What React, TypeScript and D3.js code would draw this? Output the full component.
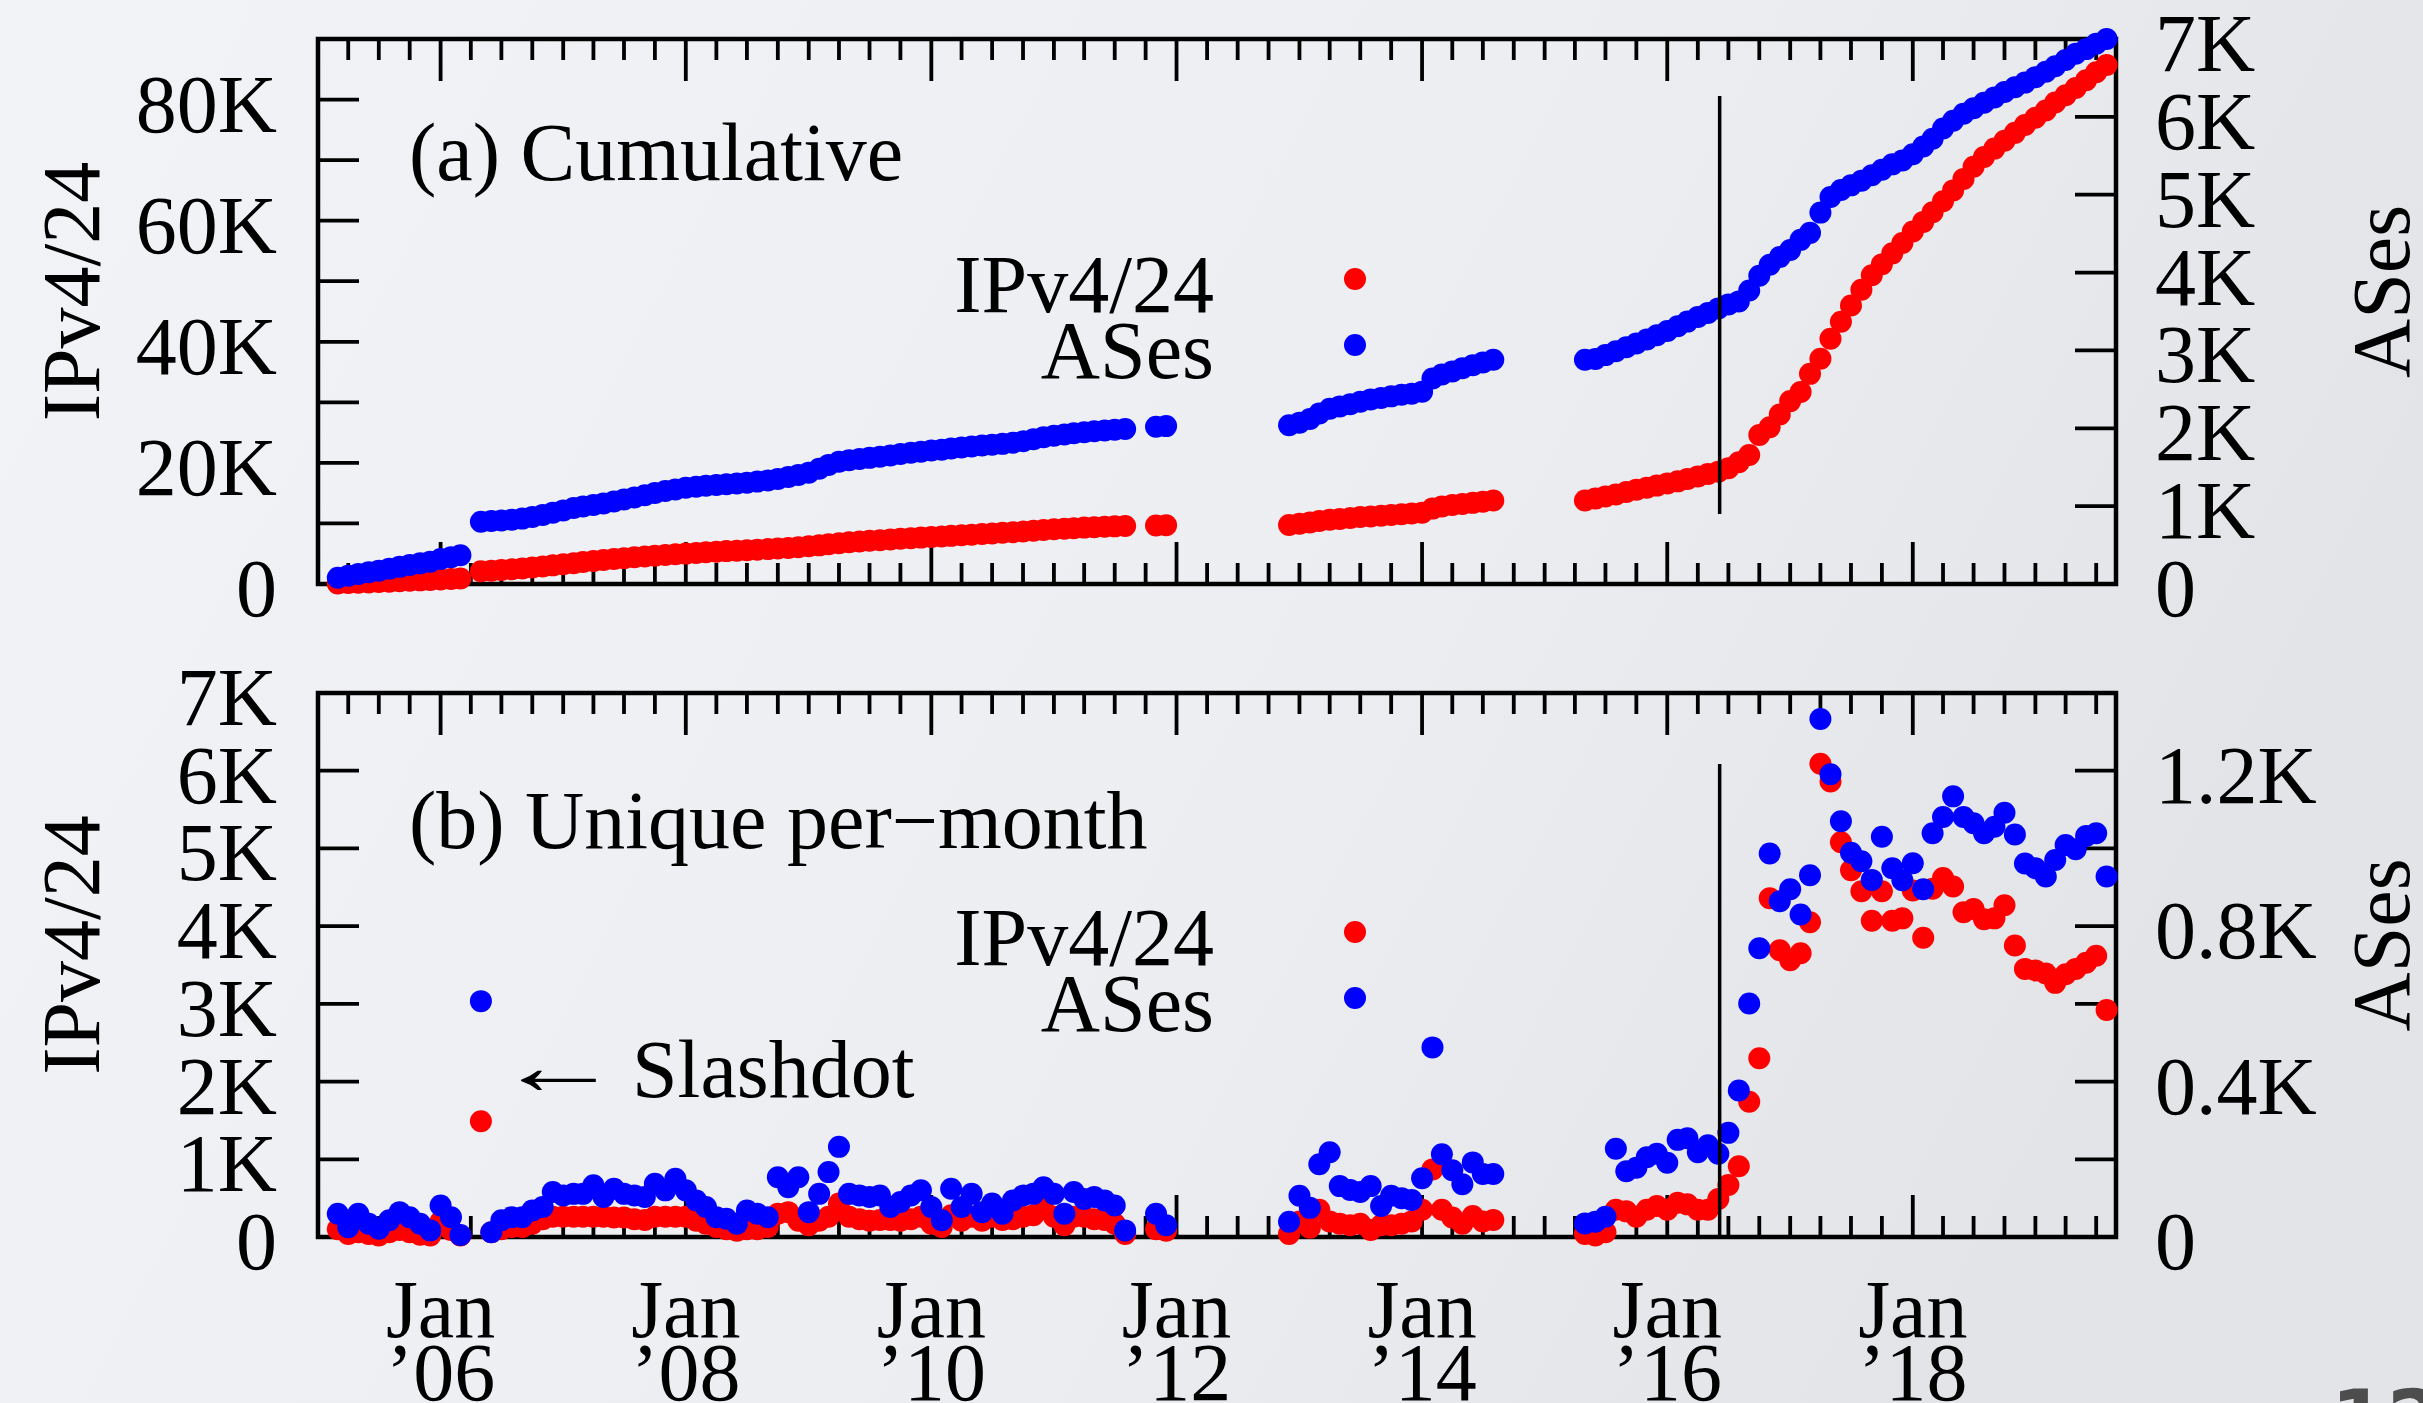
import React, { useEffect } from "react";
import * as d3 from "d3";

// monthly samples, one run of consecutive months per segment (gaps between runs have no data)
const segmentStart = ["2005-03", "2006-05", "2011-11", "2012-12", "2015-05"];

const cumulativeIPv4 = [
  [100, 150, 200, 260, 320, 390, 460, 530, 600, 670, 750, 830, 900],
  [2100, 2200, 2300, 2420, 2560, 2720, 2900, 3080, 3260, 3440, 3620, 3790, 3960, 4120, 4270, 4410,
    4540, 4660, 4780, 4900, 5020, 5130, 5240, 5340, 5430, 5510, 5590, 5670, 5760, 5860, 5960, 6080,
    6220, 6380, 6550, 6750, 6900, 7020, 7130, 7240, 7350, 7460, 7560, 7660, 7760, 7850, 7950, 8050,
    8150, 8250, 8350, 8450, 8560, 8680, 8800, 8920, 9030, 9130, 9220, 9310, 9390, 9460, 9520, 9570],
  [9650, 9700],
  [9750, 9950, 10150, 10400, 10600, 10750, 10900, 11050, 11150, 11280, 11400, 11520, 11640, 11780,
    12450, 12800, 13050, 13200, 13400, 13600, 13800],
  [13800, 14100, 14450, 14800, 15200, 15550, 15900, 16250, 16600, 16950, 17350, 17750, 18150, 18550,
    19100, 20100, 21300, 24600, 25900, 28000, 30200, 31700, 34700, 37200, 40500, 43300, 46000, 48600,
    51000, 52800, 54600, 56300, 58200, 59800, 61400, 63200, 65000, 66900, 68900, 70500, 71900, 73200,
    74500, 75800, 77000, 78200, 79500, 80700, 81900, 83200, 84500, 85700],
];

const cumulativeASes = [
  [80, 105, 130, 150, 170, 195, 220, 245, 265, 285, 320, 345, 370],
  [800, 808, 816, 826, 840, 860, 885, 915, 945, 975, 995, 1015, 1035, 1060, 1085, 1110, 1140, 1170,
    1195, 1215, 1235, 1250, 1262, 1272, 1282, 1292, 1302, 1315, 1330, 1350, 1375, 1400, 1430, 1480,
    1530, 1570, 1590, 1605, 1620, 1635, 1650, 1670, 1685, 1700, 1715, 1725, 1740, 1752, 1765, 1778,
    1790, 1800, 1815, 1835, 1860, 1885, 1905, 1920, 1935, 1950, 1962, 1972, 1982, 1990],
  [2020, 2028],
  [2040, 2070, 2120, 2190, 2250, 2280, 2310, 2340, 2370, 2390, 2410, 2430, 2445, 2470, 2640, 2690,
    2730, 2770, 2810, 2845, 2880],
  [2880, 2890, 2940, 2990, 3040, 3090, 3140, 3195, 3250, 3310, 3370, 3430, 3480, 3540, 3590, 3630,
    3770, 3960, 4100, 4200, 4290, 4420, 4510, 4770, 4970, 5060, 5120, 5180, 5250, 5320, 5390, 5440,
    5520, 5620, 5720, 5850, 5950, 6040, 6110, 6180, 6250, 6320, 6380, 6440, 6510, 6580, 6650, 6730,
    6810, 6870, 6940, 7000],
];

const monthlyIPv4 = [
  [100, 40, 60, 40, 20, 60, 90, 60, 30, 20, 200, 90, 20],
  [1490, 60, 100, 130, 130, 170, 230, 260, 260, 260, 260, 260, 260, 250, 250, 230, 220, 260, 260, 260,
    260, 210, 170, 130, 100, 80, 100, 100, 130, 300, 320, 210, 150, 210, 260, 430, 260, 230, 210, 220,
    220, 210, 230, 260, 170, 130, 280, 210, 260, 210, 260, 220, 230, 260, 280, 360, 260, 150, 260, 260,
    230, 220, 170, 40],
  [100, 80],
  [40, 200, 120, 350, 200, 170, 150, 170, 90, 150, 150, 170, 200, 350, 870, 350, 250, 170, 270, 200, 220],
  [40, 20, 60, 350, 330, 260, 350, 400, 350, 440, 420, 350, 350, 490, 670, 910, 1740, 2300, 4360, 3690,
    3560, 3650, 4050, 6090, 5860, 5080, 4720, 4450, 4070, 4450, 4070, 4100, 4460, 3850, 4480, 4620,
    4510, 4180, 4220, 4090, 4100, 4270, 3750, 3450, 3430, 3390, 3270, 3380, 3450, 3530, 3620, 2920],
];

const monthlyASes = [
  [60, 25, 60, 34, 21, 43, 64, 51, 34, 17, 81, 51, 5],
  [607, 12, 43, 51, 51, 68, 77, 116, 107, 111, 111, 133, 103, 124, 111, 107, 103, 137, 120, 150, 120,
    94, 77, 51, 47, 34, 68, 60, 51, 154, 128, 154, 64, 111, 167, 232, 111, 107, 103, 107, 77, 90, 107,
    120, 77, 43, 124, 77, 111, 64, 86, 60, 94, 107, 111, 128, 111, 60, 116, 98, 103, 94, 81, 17],
  [60, 30],
  [39, 106, 75, 187, 218, 131, 121, 116, 131, 80, 106, 100, 95, 151, 488, 213, 172, 136, 192, 162, 162],
  [35, 39, 52, 227, 169, 178, 205, 214, 191, 250, 254, 218, 236, 214, 268, 377, 601, 743, 987, 864,
    895, 830, 931, 1333, 1191, 1070, 989, 967, 919, 1030, 949, 918, 962, 895, 1039, 1081, 1134, 1081,
    1065, 1039, 1056, 1092, 1036, 961, 949, 928, 970, 1009, 998, 1032, 1039, 928],
];

const labeledYears = [2006, 2008, 2010, 2012, 2014, 2016, 2018];
const cumLeftLabels = [0, 20000, 40000, 60000, 80000];
const cumLeftTicks = [10000, 20000, 30000, 40000, 50000, 60000, 70000, 80000];
const cumRightLabels = [0, 1000, 2000, 3000, 4000, 5000, 6000, 7000];
const cumRightTicks = [1000, 2000, 3000, 4000, 5000, 6000];
const monthLeftLabels = [0, 1000, 2000, 3000, 4000, 5000, 6000, 7000];
const monthLeftTicks = [1000, 2000, 3000, 4000, 5000, 6000];
const monthRightLabels = [0, 400, 800, 1200];
const monthRightTicks = [200, 400, 600, 800, 1000, 1200];
const markerDate = "2016-06-05";

const W = 2423;
const H = 1403;
const L = 318;
const R = 2116;
const FONT = "'Liberation Serif', 'Times New Roman', Times, serif";
const FS = 82;
const DOT = 11;
const RED = "#ff0000";
const BLUE = "#0000ff";

const parseMonth = d3.timeParse("%Y-%m");
const parseDay = d3.timeParse("%Y-%m-%d");

const x = d3.scaleTime().domain([new Date(2005, 0, 1), new Date(2019, 7, 29)]).range([L, R]);

const fmtK = (v) => (v === 0 ? "0" : `${v / 1000}K`);

function toPoints(series) {
  return series.flatMap((vals, s) => {
    const start = parseMonth(segmentStart[s]);
    return vals.map((v, i) => ({ date: d3.timeMonth.offset(start, i), value: v }));
  });
}

function Panel({ top, bottom, yLeft, yRight, leftTicks, leftLabels, rightTicks, rightLabels,
  title, titleY, ipv4, ases, legendBase, markerTop, markerBottom }) {
  const quarters = d3.timeMonth.every(3).range(x.domain()[0], x.domain()[1]).filter((d) => x(d) > L + 2);
  const isMajor = (d) => d.getMonth() === 0 && d.getFullYear() % 2 === 0;
  const mx = x(parseDay(markerDate));

  return (
    <g>
      <rect x={L} y={top} width={R - L} height={bottom - top} fill="none" stroke="#000" strokeWidth={4.5} />

      {quarters.map((d) => {
        const len = isMajor(d) ? 42 : 21;
        return (
          <g key={+d} stroke="#000" strokeWidth={3.8}>
            <line x1={x(d)} x2={x(d)} y1={top} y2={top + len} />
            <line x1={x(d)} x2={x(d)} y1={bottom} y2={bottom - len} />
          </g>
        );
      })}

      {leftTicks.map((v) => (
        <line key={`l${v}`} x1={L} x2={L + 41} y1={yLeft(v)} y2={yLeft(v)} stroke="#000" strokeWidth={3.8} />
      ))}
      {rightTicks.map((v) => (
        <line key={`r${v}`} x1={R - 41} x2={R} y1={yRight(v)} y2={yRight(v)} stroke="#000" strokeWidth={3.8} />
      ))}

      <g fontFamily={FONT} fontSize={FS} fill="#000">
        {leftLabels.map((v) => (
          <text key={`ll${v}`} x={277} y={yLeft(v) + 32} textAnchor="end">{fmtK(v)}</text>
        ))}
        {rightLabels.map((v) => (
          <text key={`rl${v}`} x={2155} y={yRight(v) + 32}>{fmtK(v)}</text>
        ))}
        <text transform={`translate(99, ${(top + bottom) / 2 - 20}) rotate(-90)`} textAnchor="middle">IPv4/24</text>
        <text transform={`translate(2409, ${(top + bottom) / 2 - 20}) rotate(-90)`} textAnchor="middle">ASes</text>
        <text x={409} y={titleY}>{title}</text>
        <text x={1214} y={legendBase} textAnchor="end">IPv4/24</text>
        <text x={1214} y={legendBase + 66} textAnchor="end">ASes</text>
      </g>
      <circle cx={1355} cy={legendBase - 33} r={DOT} fill={RED} />
      <circle cx={1355} cy={legendBase + 33} r={DOT} fill={BLUE} />

      {ipv4.map((p) => (
        <circle key={`i${+p.date}`} cx={x(p.date)} cy={yLeft(p.value)} r={DOT} fill={RED} />
      ))}
      {ases.map((p) => (
        <circle key={`a${+p.date}`} cx={x(p.date)} cy={yRight(p.value)} r={DOT} fill={BLUE} />
      ))}

      <line x1={mx} x2={mx} y1={markerTop} y2={markerBottom} stroke="#000" strokeWidth={3.5} />
    </g>
  );
}

export default function App() {
  useEffect(() => {
    document.body.style.margin = "0";
    document.body.style.overflow = "hidden";
  }, []);

  const topY = [39, 584];
  const botY = [693, 1237];

  const cumLeft = d3.scaleLinear().domain([0, 90000]).range([topY[1], topY[0]]);
  const cumRight = d3.scaleLinear().domain([0, 7000]).range([topY[1], topY[0]]);
  const monLeft = d3.scaleLinear().domain([0, 7000]).range([botY[1], botY[0]]);
  const monRight = d3.scaleLinear().domain([0, 1400]).range([botY[1], botY[0]]);

  return (
    <div style={{ position: "fixed", left: 0, top: 0, width: W, height: H, overflow: "hidden" }}>
      <svg width={W} height={H} style={{ display: "block" }}>
        <defs>
          <linearGradient id="bg" x1="0" y1="0" x2="1" y2="0.3">
            <stop offset="0" stopColor="#f2f3f7" />
            <stop offset="0.6" stopColor="#eceef2" />
            <stop offset="1" stopColor="#e2e4e8" />
          </linearGradient>
        </defs>
        <rect width={W} height={H} fill="url(#bg)" />

        <Panel
          top={topY[0]} bottom={topY[1]} yLeft={cumLeft} yRight={cumRight}
          leftTicks={cumLeftTicks} leftLabels={cumLeftLabels}
          rightTicks={cumRightTicks} rightLabels={cumRightLabels}
          title="(a) Cumulative" titleY={180}
          ipv4={toPoints(cumulativeIPv4)} ases={toPoints(cumulativeASes)}
          legendBase={312} markerTop={96} markerBottom={514}
        />
        <Panel
          top={botY[0]} bottom={botY[1]} yLeft={monLeft} yRight={monRight}
          leftTicks={monthLeftTicks} leftLabels={monthLeftLabels}
          rightTicks={monthRightTicks} rightLabels={monthRightLabels}
          title="(b) Unique per−month" titleY={848}
          ipv4={toPoints(monthlyIPv4)} ases={toPoints(monthlyASes)}
          legendBase={965} markerTop={764} markerBottom={botY[1]}
        />

        <g fontFamily={FONT} fontSize={FS}>
          <text transform="translate(495, 1094) scale(1.54, 1)">←</text>
          <text x={632} y={1097}>Slashdot</text>
        </g>

        <g fontFamily={FONT} fontSize={FS} textAnchor="middle">
          {labeledYears.map((yr) => {
            const cx = x(new Date(yr, 0, 1));
            return (
              <g key={yr}>
                <text x={cx} y={1337}>Jan</text>
                <text x={cx} y={1400}>{`’${String(yr).slice(2)}`}</text>
              </g>
            );
          })}
        </g>

        <text x={2331} y={1447} fontFamily="'DejaVu Sans', sans-serif" fontWeight="bold" fontSize={80} fill="#4d4d4d">12</text>
      </svg>
    </div>
  );
}
